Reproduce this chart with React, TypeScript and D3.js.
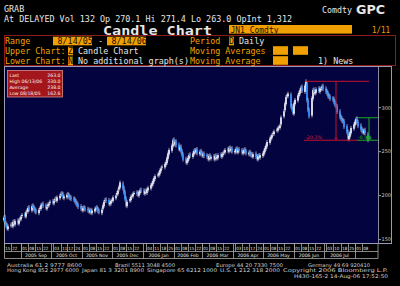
import React from 'react';
import * as d3 from 'd3';

// ---------------- DATA ----------------
const closes = [
  175,170,166,163,165,167,166,170,168,171,
  169,172,174,176,178,177,181,183,186,184,
  188,186,184,182,181,184,186,189,190,188,
  186,187,190,191,193,192,194,196,195,198,
  200,202,201,198,199,201,200,198,197,196,
  195,193,191,189,187,185,184,186,185,184,
  183,182,183,181,183,185,186,184,182,181,
  184,189,193,195,194,191,192,194,195,198,
  200,203,206,210,215,208,203,196,189,193,
  196,199,200,202,203,202,201,204,206,205,
  203,205,204,207,209,212,214,217,220,222,
  224,226,229,231,233,236,238,243,248,252,
  257,263,259,261,257,253,255,250,246,241,
  238,240,243,246,245,248,251,250,252,248,
  250,248,246,247,245,244,242,245,243,244,
  242,245,243,244,246,245,247,248,250,252,
  251,254,252,253,250,251,253,250,252,251,
  249,250,252,250,248,249,247,246,245,247,
  244,242,245,244,246,248,251,254,257,261,
  265,267,269,271,273,275,277,278,280,289,
  296,305,312,314,316,301,298,294,305,309,
  314,317,320,323,319,325,330,308,297,290,
  311,320,317,318,321,319,322,321,324,321,
  318,316,313,312,310,309,306,303,301,295,
  289,287,285,284,278,272,265,268,272,277,
  281,284,287,283,279,275,273,272,274,271,263,
];
const opens = [
  172,176,169,167,162,166,168,165,171,167,
  172,168,173,173,177,179,176,182,182,187,
  183,189,187,185,183,180,185,185,190,191,
  189,185,188,189,192,194,191,195,197,194,
  197,201,203,202,197,198,202,201,199,198,
  197,196,194,192,190,188,186,183,187,186,
  185,184,181,184,180,182,186,187,185,183,
  180,185,188,194,196,195,190,191,195,194,
  197,201,202,207,209,214,209,204,197,188,
  194,195,200,199,203,204,203,200,203,207,
  206,202,206,203,206,208,211,213,216,219,
  223,223,225,228,232,232,235,237,242,247,
  251,256,264,258,262,258,252,256,251,247,
  242,237,239,242,247,244,247,252,249,253,
  247,251,249,245,248,246,245,241,246,242,
  245,241,246,242,243,247,244,246,249,249,
  253,250,255,251,254,249,250,254,249,253,
  252,248,249,253,251,247,250,248,247,244,
  248,245,241,246,243,245,247,250,253,256,
  260,264,266,270,270,274,274,278,277,281,
  290,297,304,313,313,315,302,299,293,304,
  308,313,316,319,324,318,324,328,309,298,
  291,310,321,316,317,322,318,321,322,325,
  322,319,317,314,313,311,310,307,304,302,
  296,290,288,286,285,279,273,264,267,271,
  276,280,283,288,284,280,276,274,271,275,270,
];
const firstDay = '2005-08-15';
const yTicks = [150, 200, 250, 300];

const monthStarts = ['2005-09-01','2005-10-01','2005-11-01','2005-12-01','2006-01-01','2006-02-01','2006-03-01','2006-04-01','2006-05-01','2006-06-01','2006-07-01','2006-08-01'];
const monthLabels = ['2005 Sep','2005 Oct','2005 Nov','2005 Dec','2006 Jan','2006 Feb','2006 Mar','2006 Apr','2006 May','2006 Jun','2006 Jul'];
const tickMonths = ['2005-08','2005-09','2005-10','2005-11','2005-12','2006-01','2006-02','2006-03','2006-04','2006-05','2006-06','2006-07','2006-08'];
const tickDays = [[15,22],[1,8,15,22],[3,11,17,24],[1,8,15,22],[1,8,15,22],[4,11,18,25],[1,8,15,22],[1,8,15,22],[3,10,17,24],[1,8,15,22],[1,8,15,22],[3,10,18,25],[1,8]];

const statLabels = ['Last', 'High  06/13/06', 'Average', 'Low  08/18/05'];
const statValues = ['263.0', '330.0', '238.0', '162.6'];

// drawdown annotations (values + dates)
const redFrom = '2006-06-13';
const redTo = '2006-08-15';
const redMarker = '2006-07-13';
const redHigh = 330;
const redLow = 263;
const redLabel = '-20.3%';
const greenFrom = '2006-08-03';
const greenMarker = '2006-08-14';
const greenHigh = 288.6;
const greenLow = 263;
const greenLabel = '-8.9%';

const footer1 = [
  ['Australia 61 2 9777 8600', 7, 75],
  ['Brazil 5511 3048 4500', 115, 60],
  ['Europe 44 20 7330 7500', 216, 67],
  ['Germany 49 69 920410', 308, 62],
];
const footer2 = [
  ['Hong Kong 852 2977 6000', 7, 72],
  ['Japan 81 3 3201 8900', 82, 62],
  ['Singapore 65 6212 1000', 147, 70],
  ['U.S. 1 212 318 2000', 220, 60],
  ['Copyright 2006 Bloomberg L.P.', 283, 105],
];
const footer3 = 'H430-165-2 14-Aug-06 17:52:50';

// ---------------- HELPERS ----------------
const parse = d3.timeParse('%Y-%m-%d');
function tradingDays(n: number): Date[] {
  const out: Date[] = [];
  const d = parse(firstDay) as Date;
  while (out.length < n) {
    const w = d.getDay();
    if (w !== 0 && w !== 6) out.push(new Date(d));
    d.setDate(d.getDate() + 1);
  }
  return out;
}

const MONO = "'DejaVu Sans Mono', monospace";
const SANS = "'DejaVu Sans', sans-serif";
const ORANGE = '#f0a000';
const TXT = '#e6e6e6';
const FOOT = '#d0d0d0';

export default function App() {
  const dates = tradingDays(closes.length);
  const x = d3.scaleTime().domain([parse('2005-08-15') as Date, parse('2006-08-15') as Date]).range([4, 369]);
  const y = d3.scaleLinear().domain([150, 300]).range([239.6, 107.7]);

  const plotL = 4.5, plotT = 67, plotR = 378, plotB = 243.5;
  const axisR = 391.5;
  const cw = 1.7;

  const px = (s: string) => x(parse(s) as Date);

  return (
    <svg width={400} height={286} style={{ position: 'absolute', left: 0, top: 0, display: 'block', background: '#000' }}>
      <rect x={0} y={0} width={400} height={286} fill="#000" />
      {/* Header */}
      <text x={4} y={12} fill={TXT} fontFamily={MONO} fontSize={8.4}>GRAB</text>
      <text x={4} y={22} fill={TXT} fontFamily={MONO} fontSize={8.4} textLength={288} lengthAdjust="spacingAndGlyphs">At DELAYED Vol 132 Op 270.1 Hi 271.4 Lo 263.0 OpInt 1,312</text>
      <text x={322} y={13} fill={TXT} fontFamily={MONO} fontSize={8.4} textLength={30} lengthAdjust="spacingAndGlyphs">Comdty</text>
      <text x={356} y={13.5} fill={TXT} fontFamily={SANS} fontWeight="bold" fontSize={12.5} textLength={29} lengthAdjust="spacingAndGlyphs">GPC</text>
      <text x={103} y={34.5} fill={TXT} fontFamily={MONO} fontWeight="bold" fontSize={12.5} textLength={109} lengthAdjust="spacingAndGlyphs">Candle Chart</text>
      <rect x={229} y={25} width={123} height={8.6} fill={ORANGE} />
      <text x={230.5} y={32.6} fill="#1a0d00" fontFamily={MONO} fontSize={8.4} textLength={48} lengthAdjust="spacingAndGlyphs">JN1 Comdty</text>
      <text x={372} y={32.6} fill={ORANGE} fontFamily={MONO} fontSize={8.4} textLength={18} lengthAdjust="spacingAndGlyphs">1/11</text>

      {/* Control panel */}
      <rect x={4.5} y={35.5} width={391} height={30} fill="none" stroke="#8e1b1b" strokeWidth={1} />
      {[
        [5, 44, 'Range'], [5, 54, 'Upper Chart:'], [5, 64, 'Lower Chart:'],
        [190, 44, 'Period'], [190, 54, 'Moving Averages'], [190, 64, 'Moving Average'],
      ].map(([tx, ty, t], i) => (
        <text key={'l' + i} x={tx as number} y={ty as number} fill={ORANGE} fontFamily={MONO} fontSize={8.4}>{t}</text>
      ))}
      {[
        [53, 36.7, 39], [107, 36.7, 39], [68, 46.7, 5], [68, 56.7, 5], [229, 36.7, 5],
        [273, 46.2, 15], [293, 46.2, 15], [273, 56.2, 15],
      ].map(([bx, by, bw], i) => (
        <rect key={'b' + i} x={bx} y={by} width={bw} height={8.6} fill={ORANGE} />
      ))}
      <text x={57.5} y={44.3} fill="#1a0d00" fontFamily={MONO} fontSize={8.4}>8/14/05</text>
      <text x={111.5} y={44.3} fill="#1a0d00" fontFamily={MONO} fontSize={8.4}>8/14/06</text>
      <text x={98} y={44} fill={TXT} fontFamily={MONO} fontSize={8.4}>-</text>
      <text x={68} y={54.3} fill="#1a0d00" fontFamily={MONO} fontSize={8.4}>Z</text>
      <text x={68} y={64.3} fill="#1a0d00" fontFamily={MONO} fontSize={8.4}>N</text>
      <text x={229} y={44.3} fill="#1a0d00" fontFamily={MONO} fontSize={8.4}>D</text>
      <text x={78} y={54} fill={TXT} fontFamily={MONO} fontSize={8.4}>Candle Chart</text>
      <text x={78} y={64} fill={TXT} fontFamily={MONO} fontSize={8.4}>No additional graph(s)</text>
      <text x={239} y={44} fill={TXT} fontFamily={MONO} fontSize={8.4}>Daily</text>
      <text x={318} y={64} fill={TXT} fontFamily={MONO} fontSize={8.4}>1) News</text>

      {/* Chart frame */}
      <rect x={plotL} y={plotT} width={plotR - plotL} height={plotB - plotT} fill="#03033f" />
      <rect x={plotR} y={plotT} width={axisR - plotR} height={plotB - plotT} fill="#000" />
      <rect x={plotL} y={plotT - 0.5} width={axisR - plotL} height={plotB - plotT + 0.5} fill="none" stroke="#9a9ab4" strokeWidth={1} />
      <line x1={plotR + 0.5} x2={plotR + 0.5} y1={plotT} y2={plotB} stroke="#8a8a9a" strokeWidth={1} />

      {/* Y axis */}
      {yTicks.map((t) => (
        <g key={t}>
          <line x1={plotR + 1} x2={plotR + 3} y1={y(t)} y2={y(t)} stroke="#c8c8c8" strokeWidth={0.8} />
          <text x={plotR + 3.5} y={y(t) + 1.8} fill="#c8c8c8" fontFamily={SANS} fontSize={5}>{t}</text>
        </g>
      ))}

      {/* Info box */}
      <rect x={7.5} y={70.5} width={55} height={26.5} fill="#a3161c" stroke="#d88a8a" strokeWidth={0.8} />
      {statLabels.map((l, i) => (
        <g key={l}>
          <text x={9.5} y={76.5 + i * 6} fill="#f4f4f4" fontFamily={SANS} fontSize={4.6}>{l}</text>
          <text x={60.5} y={76.5 + i * 6} fill="#f4f4f4" fontFamily={SANS} fontSize={4.6} textAnchor="end">{statValues[i]}</text>
        </g>
      ))}

      {/* Candles */}
      {dates.map((d, i) => {
        const o = opens[i], c = closes[i];
        const up = c >= o;
        const cx = x(d);
        const top = y(Math.max(o, c));
        const bot = y(Math.min(o, c));
        const col = up ? '#ececf6' : '#2e90ff';
        return (
          <g key={i}>
            <line x1={cx} x2={cx} y1={top - 2} y2={bot + 2} stroke="#c4c4d6" strokeWidth={0.8} />
            <rect x={cx - cw / 2} y={top} width={cw} height={Math.max(1, bot - top)} fill={col} />
          </g>
        );
      })}

      {/* Red drawdown annotation */}
      <g stroke="#c8102e" strokeWidth={1}>
        <line x1={px(redFrom) - 1} x2={px(redTo)} y1={y(redHigh)} y2={y(redHigh)} />
        <line x1={px(redFrom) - 2} x2={px(greenFrom)} y1={y(redLow)} y2={y(redLow)} />
        <line x1={px(redMarker)} x2={px(redMarker)} y1={y(redHigh)} y2={y(redLow)} />
        <line x1={px(redMarker) - 1.5} x2={px(redMarker) + 1.5} y1={y(redLow) - 2} y2={y(redLow) - 2} />
      </g>
      <text x={px(redFrom) - 1} y={y(redLow) - 1.5} fill="#d8203a" fontFamily={SANS} fontSize={4.8}>{redLabel}</text>
      <g stroke="#1fa81f" strokeWidth={1}>
        <line x1={px(greenFrom)} x2={plotR} y1={y(greenHigh)} y2={y(greenHigh)} />
        <line x1={px(greenFrom)} x2={plotR} y1={y(greenLow)} y2={y(greenLow)} />
        <line x1={px(greenMarker) + 1} x2={px(greenMarker) + 1} y1={y(greenHigh)} y2={y(greenLow)} />
        <rect x={px(greenMarker) - 1} y={y(greenLow) - 3.5} width={3} height={2.5} fill="none" />
      </g>
      <text x={px(greenFrom) + 1} y={y(greenLow) - 1.5} fill="#22b822" fontFamily={SANS} fontSize={4.8}>{greenLabel}</text>

      {/* Date rows */}
      <g stroke="#a8a8a8" strokeWidth={0.8}>
        <line x1={plotL} x2={plotR} y1={251.5} y2={251.5} />
        <line x1={plotL} x2={plotR} y1={258.5} y2={258.5} />
        <line x1={plotL} x2={plotL} y1={243.5} y2={258.5} />
        <line x1={plotR} x2={plotR} y1={243.5} y2={258.5} />
        {monthStarts.map((m) => (
          <line key={m} x1={Math.round(px(m)) + 0.5} x2={Math.round(px(m)) + 0.5} y1={243.5} y2={258.5} />
        ))}
        {tickMonths.map((m, mi) => tickDays[mi].map((dd) => {
          const xx = Math.round(px(m + '-' + String(dd).padStart(2, '0')));
          return <line key={m + dd} x1={xx + 0.5} x2={xx + 0.5} y1={243.5} y2={251.5} />;
        }))}
      </g>
      {tickMonths.map((m, mi) => tickDays[mi].map((dd) => {
        const xx = Math.round(px(m + '-' + String(dd).padStart(2, '0')));
        return <text key={'t' + m + dd} x={xx + 1.2} y={249.8} fill="#e0e0e0" fontFamily={SANS} fontSize={4.3} textLength={5} lengthAdjust="spacingAndGlyphs">{String(dd).padStart(2, '0')}</text>;
      }))}
      {monthLabels.map((l, i) => {
        const a = px(monthStarts[i]), b = px(monthStarts[i + 1]);
        return <text key={l} x={(a + b) / 2} y={257} fill="#e0e0e0" fontFamily={SANS} fontSize={4.6} textAnchor="middle">{l}</text>;
      })}

      {/* Footer */}
      <g>
        {footer1.map(([t, fx, fw]) => (
          <text key={t as string} x={fx as number} y={266.5} fill={FOOT} fontFamily={SANS} fontSize={5} textLength={fw as number} lengthAdjust="spacingAndGlyphs">{t}</text>
        ))}
        {footer2.map(([t, fx, fw]) => (
          <text key={t as string} x={fx as number} y={271.8} fill={FOOT} fontFamily={SANS} fontSize={5} textLength={fw as number} lengthAdjust="spacingAndGlyphs">{t}</text>
        ))}
        <text x={294} y={277.8} fill={FOOT} fontFamily={SANS} fontSize={5} textLength={94} lengthAdjust="spacingAndGlyphs">{footer3}</text>
      </g>
    </svg>
  );
}
